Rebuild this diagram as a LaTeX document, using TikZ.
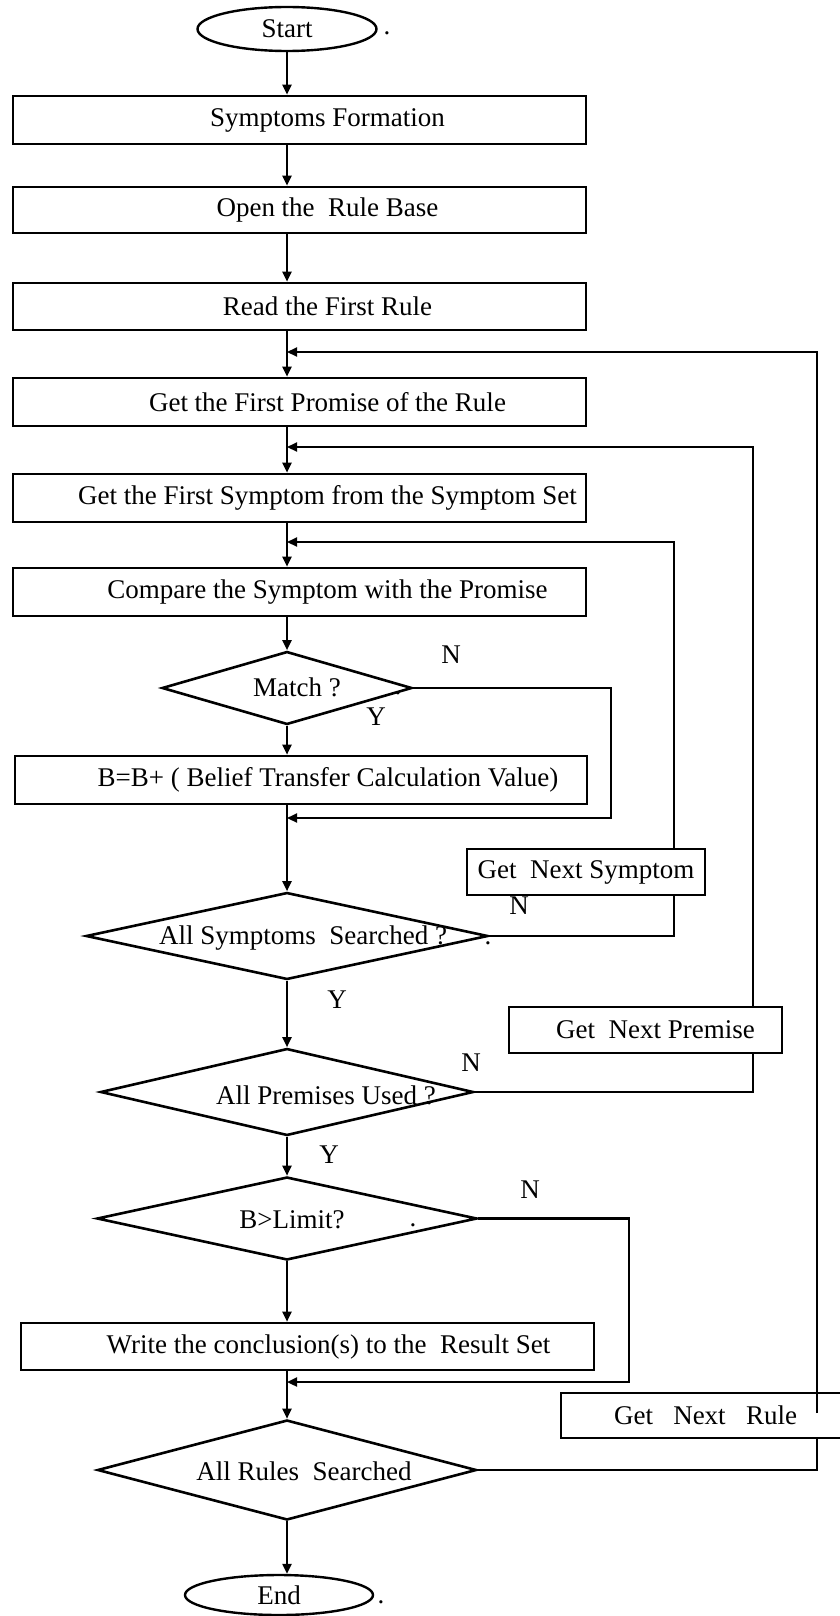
\documentclass[tikz,border=0pt]{standalone}
\usepackage{fontspec}
\setmainfont{Liberation Serif}
\usetikzlibrary{shapes.geometric,arrows.meta}

\begin{document}
\begin{tikzpicture}[x=1pt,y=-1pt,
  every node/.style={font=\fontsize{27}{31}\selectfont},
  procbox/.style={draw,line width=2.6pt,minimum width=573pt,inner sep=0pt,
    execute at begin node=\hspace*{#1}},
  procbox/.default=56pt,
  sidebox/.style={draw,line width=2.6pt,inner sep=0pt,
    execute at begin node=\hspace*{#1}},
  sidebox/.default=0pt,
  decision/.style={draw,diamond,line width=2.6pt,inner sep=0pt},
  term/.style={draw,ellipse,line width=2.4pt,inner sep=0pt},
  flow/.style={line width=2.2pt,-{Triangle[length=10pt,width=9pt]}},
  link/.style={line width=2.2pt},
  tag/.style={inner sep=0pt},
]
\useasboundingbox (0,0) rectangle (839,1616);

% main column
\coordinate (axis) at (287,0);

% terminals, process boxes and decisions of the main column
\node[term,minimum width=179pt,minimum height=44pt] (start) at (287,29) {Start};
\node[tag] (startdot) at (387,33) {.};

\node[procbox,minimum height=48pt] (sf)  at (299.5,120)   {Symptoms Formation};
\node[procbox,minimum height=46pt] (orb) at (299.5,210)   {Open the\ \ Rule Base};
\node[procbox,minimum height=47pt] (rfr) at (299.5,306.5) {Read the First Rule};
\node[procbox,minimum height=48pt] (gfp) at (299.5,402)   {Get the First Promise of the Rule};
\node[procbox,minimum height=48pt] (gfs) at (299.5,498)   {Get the First Symptom from the Symptom Set};
\node[procbox,minimum height=48pt] (cmp) at (299.5,592)   {Compare the Symptom with the Promise};

\node[decision,minimum width=250pt,minimum height=73pt] (match) at (287,688) {};
\node[tag] (matchtxt) at (297,687) {Match ?};
\node[tag] (matchdot) at (398,693) {.};

\node[procbox=54pt,minimum width=572pt,minimum height=48pt] (bel) at (301,780)
  {B=B+ ( Belief Transfer Calculation Value)};

\node[decision,minimum width=402pt,minimum height=87pt] (sym) at (287,936) {};
\node[tag] (symtxt) at (303,938) {All Symptoms\ \ Searched ?};
\node[tag] (symdot) at (488,943) {.};

\node[decision,minimum width=373pt,minimum height=87pt] (prem) at (287,1092) {};
\node[tag] (premtxt) at (326,1095) {All Premises Used ?};

\node[decision,minimum width=380pt,minimum height=83pt] (lim) at (287,1218.5) {};
\node[tag] (limtxt) at (292,1220) {B>Limit?};
\node[tag] (limdot) at (413,1225) {.};

\node[procbox=42pt,minimum height=47pt] (wr) at (307.5,1346.5)
  {Write the conclusion(s) to the\ \ Result Set};

\node[decision,minimum width=379pt,minimum height=100pt] (rules) at (287,1470) {};
\node[tag] (rulestxt) at (304,1471) {All Rules\ \ Searched};

\node[term,minimum width=188pt,minimum height=40pt] (end) at (279,1595) {End};
\node[tag] (enddot) at (381,1602) {.};

% boxes on the return paths
\node[sidebox,minimum width=238pt,minimum height=46pt] (gns) at (586,872) {Get\ \ Next Symptom};
\node[sidebox=20pt,minimum width=273pt,minimum height=46pt] (gnp) at (645.5,1030) {Get\ \ Next Premise};
\node[sidebox,minimum width=289pt,minimum height=45pt] (gnr) at (705.5,1415.5) {Get\ \ \ Next\ \ \ Rule};

% branch labels
\node[tag] (n1) at (451,655)  {N};
\node[tag] (y1) at (376,717)  {Y};
\node[tag] (n2) at (519,906)  {N};
\node[tag] (y2) at (337,1000) {Y};
\node[tag] (n3) at (471,1063) {N};
\node[tag] (y3) at (329,1155) {Y};
\node[tag] (n4) at (530,1190) {N};

% downward flow
\draw[flow] (start.south) -- (start.south |- sf.north);
\draw[flow] (sf.south -| axis)  -- (orb.north -| axis);
\draw[flow] (orb.south -| axis) -- (rfr.north -| axis);
\draw[flow] (rfr.south -| axis) -- (gfp.north -| axis);
\draw[flow] (gfp.south -| axis) -- (gfs.north -| axis);
\draw[flow] (gfs.south -| axis) -- (cmp.north -| axis);
\draw[flow] (cmp.south -| axis) -- (match.north);
\draw[flow] (match.south) -- (bel.north -| axis);
\draw[flow] (bel.south -| axis) -- (sym.north);
\draw[flow] (sym.south) -- (prem.north);
\draw[flow] (prem.south) -- (lim.north);
\draw[flow] (lim.south) -- (wr.north -| axis);
\draw[flow] (wr.south -| axis) -- (rules.north);
\draw[flow] (rules.south) -- (rules.south |- end.north);

% return paths
\coordinate (mloop) at (611,818);
\coordinate (sloop) at (674,542);
\coordinate (ploop) at (753,447);
\coordinate (lloop) at (629,1382);
\coordinate (rloop) at (817,352);
\coordinate (rin)   at (817,1413);

\draw[flow] (match.east) -| (mloop) -- (mloop -| axis);

\draw[link] (sym.east) -| (gns.south -| sloop);
\draw[flow] (gns.north -| sloop) -- (sloop) -- (sloop -| axis);

\draw[link] (prem.east) -| (gnp.south -| ploop);
\draw[flow] (gnp.north -| ploop) -- (ploop) -- (ploop -| axis);

\draw[flow] (lim.east) -| (lloop) -- (lloop -| axis);

\draw[link] (rules.east) -| (gnr.south -| rloop);
\draw[flow] (rin) -- (rloop) -- (rloop -| axis);
\end{tikzpicture}
\end{document}
